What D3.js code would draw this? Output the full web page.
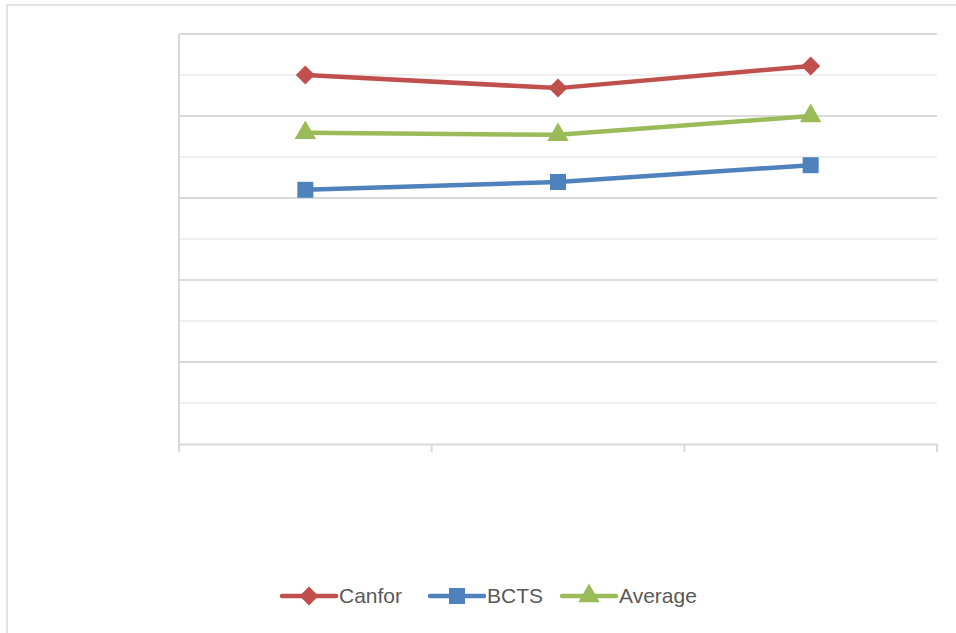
<!DOCTYPE html>
<html>
<head>
<meta charset="utf-8">
<script src="https://cdn.jsdelivr.net/npm/d3@7"></script>
<style>
  body { margin: 0; background: #fff; }
  text { font-family: "Liberation Sans", Arial, sans-serif; }
</style>
</head>
<body>
<div class="chart"></div>
<script>
var WIDTH = 956;
var HEIGHT = 633;

// data
var categories = ["A", "B", "C"];
var canfor = [9.0, 8.68, 9.22];
var bcts = [6.2, 6.39, 6.8];
var average = [7.59, 7.54, 8.0];
var seriesNames = ["Canfor", "BCTS", "Average"];
var seriesColors = ["#C0504D", "#4F81BD", "#9BBB59"];
var seriesShapes = [d3.symbolDiamond2, d3.symbolSquare, d3.symbolTriangle];
var yTicks = d3.range(0, 11, 1);

var series = [canfor, bcts, average].map(function(vals, i) {
    return {name: seriesNames[i], values: vals, color: seriesColors[i], shape: seriesShapes[i]};
});

var plot = {left: 179, right: 937, top: 34, bottom: 444};

var svg = d3.select(".chart")
    .append("svg")
    .attr("width", WIDTH)
    .attr("height", HEIGHT);

// outer chart border
svg.append("rect")
    .attr("x", 7)
    .attr("y", 5)
    .attr("width", 980)
    .attr("height", 700)
    .attr("fill", "#fff")
    .attr("stroke", "#d9d9d9")
    .attr("stroke-width", 1.5);

var x = d3.scaleBand()
    .domain(categories)
    .range([plot.left, plot.right]);

var y = d3.scaleLinear()
    .domain([0, 10])
    .range([plot.bottom, plot.top]);

// gridlines: majors every 2, minors in between
svg.append("g").selectAll("line")
    .data(yTicks.filter(function(d) { return d > 0; }))
    .enter().append("line")
    .attr("x1", plot.left)
    .attr("x2", plot.right)
    .attr("y1", function(d) { return y(d); })
    .attr("y2", function(d) { return y(d); })
    .attr("stroke", function(d) { return d % 2 == 0 ? "#d9d9d9" : "#f0f0f0"; })
    .attr("stroke-width", 2);

// y axis line
svg.append("line")
    .attr("x1", plot.left)
    .attr("x2", plot.left)
    .attr("y1", plot.top)
    .attr("y2", plot.bottom + 8)
    .attr("stroke", "#d9d9d9")
    .attr("stroke-width", 2);

// x axis, ticks at band edges, no labels
var xAxis = svg.append("g")
    .attr("transform", "translate(0," + plot.bottom + ")")
    .call(d3.axisBottom(x).tickSize(0).tickFormat(""));
xAxis.select(".domain").attr("stroke", "#d9d9d9").attr("stroke-width", 2);
xAxis.selectAll(".tick").remove();

var edges = categories.map(function(c) { return x(c); }).concat([plot.right]);
svg.append("g").selectAll("line")
    .data(edges)
    .enter().append("line")
    .attr("x1", function(d) { return d; })
    .attr("x2", function(d) { return d; })
    .attr("y1", plot.bottom)
    .attr("y2", plot.bottom + 8)
    .attr("stroke", "#d9d9d9")
    .attr("stroke-width", 2);

var line = d3.line()
    .x(function(d, i) { return x(categories[i]) + x.bandwidth() / 2; })
    .y(function(d) { return y(d); });

var markerSize = {0: 230, 1: 256, 2: 200};

series.forEach(function(s, si) {
    svg.append("path")
        .attr("d", line(s.values))
        .attr("fill", "none")
        .attr("stroke", s.color)
        .attr("stroke-width", 4.5)
        .attr("stroke-linejoin", "round");

    svg.append("g").selectAll("path")
        .data(s.values)
        .enter().append("path")
        .attr("d", d3.symbol().type(s.shape).size(markerSize[si]))
        .attr("transform", function(d, i) {
            return "translate(" + (x(categories[i]) + x.bandwidth() / 2) + "," + y(d) + ")";
        })
        .attr("fill", s.color);
});

// legend
var legendX = [282, 430, 562];
var legend = svg.append("g").selectAll("g")
    .data(series)
    .enter().append("g")
    .attr("transform", function(d, i) { return "translate(" + legendX[i] + ",596)"; });

legend.append("line")
    .attr("x1", 0)
    .attr("x2", 54)
    .attr("stroke", function(d) { return d.color; })
    .attr("stroke-width", 4.5)
    .attr("stroke-linecap", "round");

legend.append("path")
    .attr("d", function(d, i) { return d3.symbol().type(d.shape).size(markerSize[i])(); })
    .attr("transform", "translate(27,0)")
    .attr("fill", function(d) { return d.color; });

legend.append("text")
    .attr("x", 57)
    .attr("y", 7)
    .attr("font-size", 21)
    .attr("fill", "#595959")
    .text(function(d) { return d.name; });
</script>
</body>
</html>
